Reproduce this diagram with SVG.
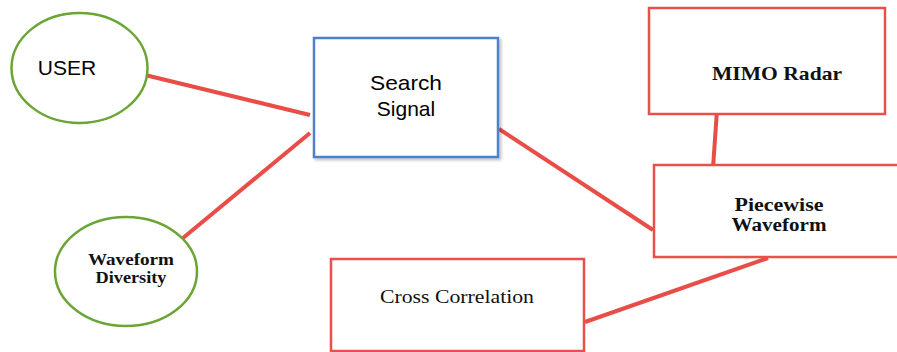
<svg xmlns="http://www.w3.org/2000/svg" width="897" height="352" viewBox="0 0 897 352">
<defs>
<style>
.ell{fill:#fff;stroke:#6aa535;stroke-width:2.5}
.box{fill:#fff;stroke:#e8504b;stroke-width:2.5}
.blue{fill:#fff;stroke:#4f80cc;stroke-width:2.5}
.con{stroke:#e84d47;stroke-width:4;fill:none}
.sans{font-family:"Liberation Sans",Arial,sans-serif;fill:#000}
.serifb{font-family:"Liberation Serif","Times New Roman",serif;font-weight:bold;fill:#111}
.serif{font-family:"Liberation Serif","Times New Roman",serif;fill:#111}
</style>
<filter id="sh" x="-10%" y="-10%" width="130%" height="130%"><feDropShadow dx="2" dy="2" stdDeviation="1.5" flood-color="#000" flood-opacity="0.25"/></filter>
</defs>
<rect width="897" height="352" fill="#fff"/>
<g id="connectors">
<line class="con" x1="145" y1="75" x2="310" y2="115"/>
<line class="con" x1="310" y1="133" x2="183" y2="238"/>
<line class="con" x1="499" y1="129" x2="653" y2="230"/>
<line class="con" x1="717" y1="110" x2="713" y2="168"/>
<line class="con" x1="768" y1="258" x2="585" y2="322"/>
</g>
<g id="user">
<ellipse class="ell" cx="79.5" cy="68" rx="68" ry="55"/>
<text class="sans" x="67" y="75" font-size="21" text-anchor="middle">USER</text>
</g>
<g id="search-signal">
<rect class="blue" x="314" y="38" width="184" height="119" filter="url(#sh)"/>
<text class="sans" x="406" y="90" font-size="21" text-anchor="middle" textLength="72" lengthAdjust="spacingAndGlyphs">Search</text>
<text class="sans" x="406" y="116" font-size="21" text-anchor="middle">Signal</text>
</g>
<g id="waveform-diversity">
<ellipse class="ell" cx="126" cy="271.5" rx="71" ry="54.5"/>
<text class="serifb" x="131" y="265" font-size="17" text-anchor="middle" textLength="86" lengthAdjust="spacingAndGlyphs">Waveform</text>
<text class="serifb" x="131" y="283" font-size="17" text-anchor="middle" textLength="71" lengthAdjust="spacingAndGlyphs">Diversity</text>
</g>
<g id="mimo-radar">
<rect class="box" x="649" y="8" width="236" height="106"/>
<text class="serifb" x="777" y="80" font-size="19" text-anchor="middle" textLength="130" lengthAdjust="spacingAndGlyphs">MIMO Radar</text>
</g>
<g id="piecewise-waveform">
<rect class="box" x="654" y="165" width="250" height="92"/>
<text class="serifb" x="779" y="211" font-size="18" text-anchor="middle" textLength="89" lengthAdjust="spacingAndGlyphs">Piecewise</text>
<text class="serifb" x="779" y="231" font-size="18" text-anchor="middle" textLength="95" lengthAdjust="spacingAndGlyphs">Waveform</text>
</g>
<g id="cross-correlation">
<rect class="box" x="331" y="259" width="253" height="92"/>
<text class="serif" x="457" y="303" font-size="19" text-anchor="middle" textLength="154" lengthAdjust="spacingAndGlyphs">Cross Correlation</text>
</g>
</svg>
